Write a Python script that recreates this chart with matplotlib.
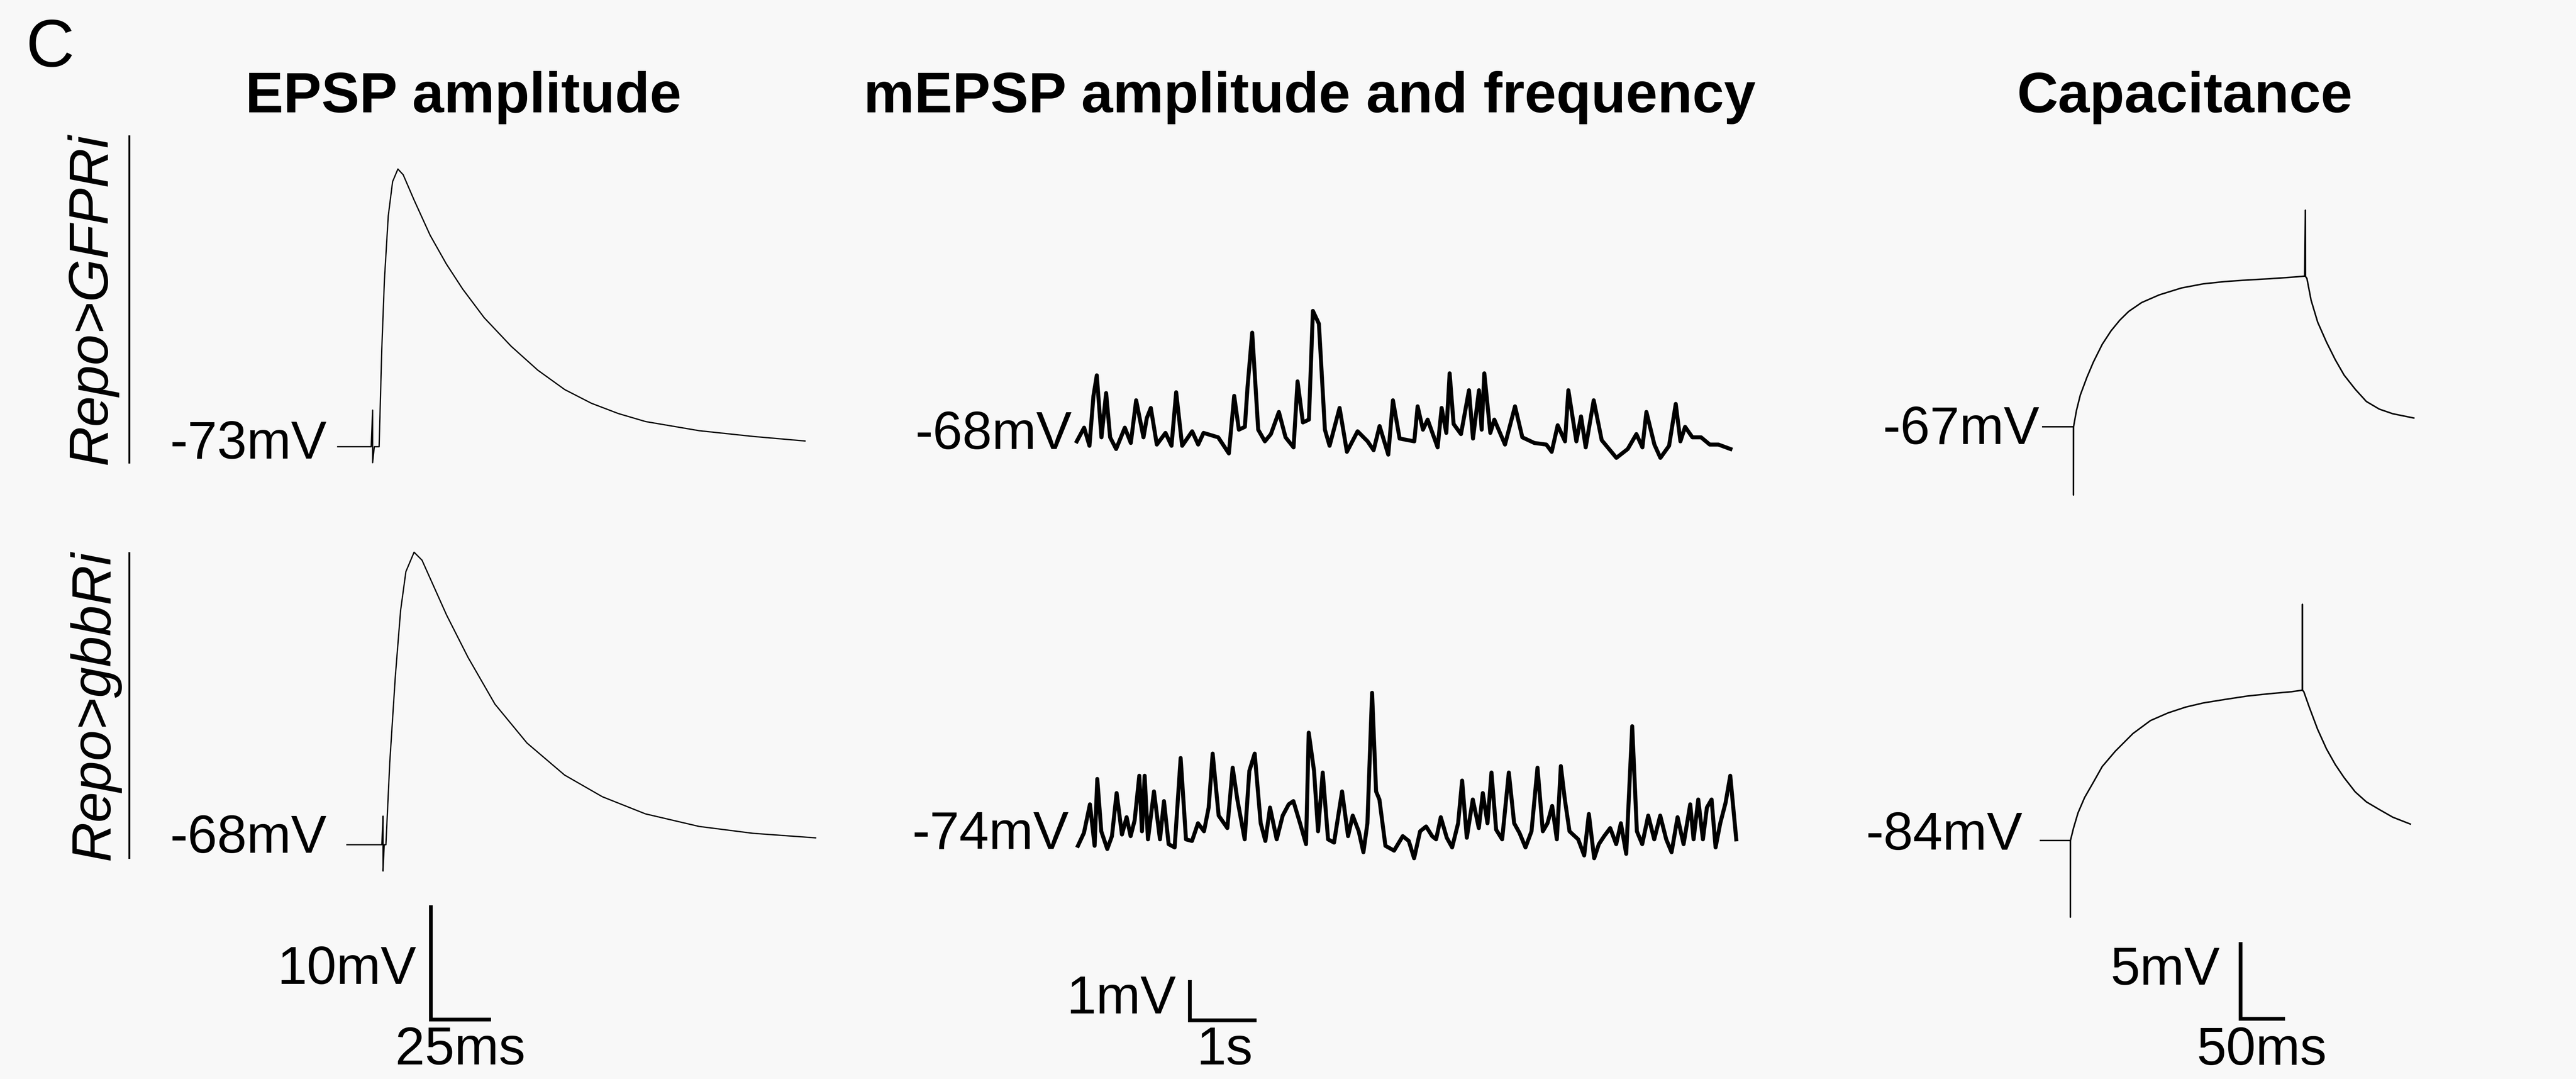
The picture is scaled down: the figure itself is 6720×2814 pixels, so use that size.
import matplotlib
matplotlib.use("Agg")
import matplotlib.pyplot as plt
from matplotlib.lines import Line2D

# ---------------- data ----------------
titles = ["EPSP amplitude", "mEPSP amplitude and frequency", "Capacitance"]
genotypes = ["Repo>GFPRi", "Repo>gbbRi"]

# resting potentials (mV) : [top row, bottom row] for each column
rest_epsp = [-73, -68]
rest_mepsp = [-68, -74]
rest_cap = [-67, -84]

# EPSP traces: (time ms, deflection from rest mV)
epsp_gfp = [(0, 0), (13.9, 0), (14.5, 3.2), (14.5, -1.4), (15.2, 0), (17.2, 0), (18.3, 8.5),
            (19.4, 14.6), (21.0, 20.2), (22.8, 23.2), (25.0, 24.3), (27.2, 23.8), (31.7, 21.6),
            (38.4, 18.5), (45.1, 16.0), (51.9, 13.8), (60.8, 11.3), (72.0, 8.8), (83.1, 6.7),
            (94.3, 5.0), (105.4, 3.8), (116.6, 2.9), (127.9, 2.2), (150.2, 1.4), (172.5, 0.9),
            (194.1, 0.5)]
epsp_gbb = [(0, 0), (14.5, 0), (15.0, 2.5), (15.0, -2.3), (15.5, 0), (16.2, 0), (17.8, 7.2),
            (20.1, 14.7), (22.3, 20.5), (24.5, 23.9), (27.9, 25.6), (31.2, 24.9), (34.6, 23.3),
            (41.4, 20.1), (50.3, 16.4), (61.5, 12.3), (74.8, 8.9), (90.4, 6.1), (106.1, 4.2),
            (124.0, 2.7), (146.3, 1.6), (168.6, 1.0), (194.7, 0.6)]

# mEPSP traces: (time s, deflection mV)
mepsp_gfp = [(0.00, -0.01), (0.11, 0.33), (0.19, -0.12), (0.25, 1.12), (0.30, 1.63), (0.37, 0.09),
             (0.44, 1.19), (0.50, 0.09), (0.59, -0.20), (0.72, 0.33), (0.81, -0.05), (0.89, 1.01),
             (1.00, 0.09), (1.05, 0.57), (1.11, 0.82), (1.20, -0.09), (1.33, 0.20), (1.42, -0.12),
             (1.49, 1.21), (1.58, -0.12), (1.73, 0.24), (1.82, -0.09), (1.90, 0.20), (2.12, 0.09),
             (2.28, -0.31), (2.36, 1.12), (2.43, 0.28), (2.52, 0.35), (2.56, 1.34), (2.63, 2.69),
             (2.72, 0.28), (2.82, -0.01), (2.91, 0.17), (3.03, 0.72), (3.13, 0.09), (3.25, -0.16),
             (3.31, 1.48), (3.39, 0.46), (3.48, 0.53), (3.54, 3.23), (3.63, 2.91), (3.72, 0.28),
             (3.79, -0.12), (3.94, 0.82), (4.05, -0.27), (4.21, 0.24), (4.36, -0.01), (4.45, -0.23),
             (4.54, 0.37), (4.67, -0.34), (4.74, 1.01), (4.84, 0.06), (5.06, -0.01), (5.11, 0.86),
             (5.19, 0.28), (5.26, 0.53), (5.41, -0.16), (5.47, 0.82), (5.54, 0.20), (5.59, 1.68),
             (5.65, 0.42), (5.76, 0.17), (5.88, 1.26), (5.94, 0.06), (6.03, 1.26), (6.07, 0.28),
             (6.11, 1.68), (6.20, 0.20), (6.26, 0.53), (6.42, -0.09), (6.57, 0.86), (6.68, 0.09),
             (6.86, -0.05), (7.04, -0.09), (7.12, -0.27), (7.21, 0.39), (7.32, -0.01), (7.37, 1.26),
             (7.49, -0.01), (7.56, 0.61), (7.63, -0.16), (7.75, 1.01), (7.87, 0.02), (8.09, -0.42),
             (8.26, -0.20), (8.39, 0.17), (8.48, -0.16), (8.54, 0.72), (8.66, -0.09), (8.75, -0.42),
             (8.88, -0.12), (8.98, 0.92), (9.05, -0.01), (9.12, 0.35), (9.23, 0.09), (9.36, 0.09),
             (9.49, -0.09), (9.62, -0.09), (9.80, -0.20)]
mepsp_gbb = [(0.00, -0.16), (0.09, 0.16), (0.18, 0.87), (0.25, -0.16), (0.29, 1.50), (0.35, 0.20),
             (0.44, -0.24), (0.51, 0.08), (0.58, 1.15), (0.66, 0.12), (0.73, 0.55), (0.79, 0.08),
             (0.85, 0.47), (0.92, 1.58), (0.96, 0.20), (1.00, 1.58), (1.05, 0.00), (1.14, 1.19),
             (1.23, 0.00), (1.29, 0.95), (1.36, -0.12), (1.45, -0.20), (1.54, 2.02), (1.62, 0.00),
             (1.71, -0.04), (1.80, 0.40), (1.89, 0.20), (1.96, 0.79), (2.02, 2.13), (2.11, 0.59),
             (2.24, 0.28), (2.32, 1.78), (2.39, 0.99), (2.50, 0.00), (2.57, 1.70), (2.65, 2.13),
             (2.74, 0.40), (2.81, -0.04), (2.88, 0.79), (2.98, 0.00), (3.07, 0.59), (3.16, 0.87),
             (3.23, 0.95), (3.33, 0.40), (3.42, -0.12), (3.46, 2.65), (3.54, 1.70), (3.60, 0.20),
             (3.67, 1.66), (3.75, 0.00), (3.84, -0.08), (3.96, 1.19), (4.05, 0.08), (4.12, 0.59),
             (4.21, 0.20), (4.28, -0.32), (4.34, 0.40), (4.41, 3.64), (4.47, 1.19), (4.52, 0.99),
             (4.61, -0.16), (4.74, -0.28), (4.87, 0.08), (4.96, -0.04), (5.04, -0.47), (5.13, 0.20),
             (5.22, 0.32), (5.31, 0.08), (5.37, 0.00), (5.44, 0.55), (5.53, 0.04), (5.61, -0.20),
             (5.70, 0.40), (5.76, 1.46), (5.83, 0.04), (5.92, 0.99), (6.01, 0.28), (6.07, 1.15),
             (6.14, 0.40), (6.20, 1.66), (6.27, 0.24), (6.36, 0.00), (6.46, 1.66), (6.54, 0.40),
             (6.62, 0.16), (6.71, -0.20), (6.80, 0.20), (6.89, 1.78), (6.97, 0.20), (7.04, 0.40),
             (7.11, 0.83), (7.18, 0.00), (7.24, 1.82), (7.30, 0.99), (7.37, 0.20), (7.50, 0.00),
             (7.59, -0.40), (7.66, 0.63), (7.74, -0.47), (7.81, -0.12), (7.89, 0.08), (7.98, 0.28),
             (8.07, -0.12), (8.14, 0.40), (8.22, -0.36), (8.31, 2.81), (8.38, 0.20), (8.46, -0.12),
             (8.55, 0.59), (8.64, 0.00), (8.73, 0.59), (8.82, 0.00), (8.90, -0.32), (8.99, 0.55),
             (9.08, -0.12), (9.18, 0.87), (9.23, 0.00), (9.30, 0.99), (9.37, 0.00), (9.43, 0.79),
             (9.50, 0.99), (9.56, -0.20), (9.63, 0.40), (9.71, 0.91), (9.78, 1.58), (9.87, 0.00)]

# Capacitance traces: (time ms, deflection mV)
cap_gfp = [(0, 0), (34.5, 0), (34.5, -4.45), (34.6, 0), (37.9, 1.07), (42.2, 2.07), (49.6, 3.22),
           (56.9, 4.22), (66.8, 5.37), (76.7, 6.25), (86.6, 6.95), (96.6, 7.52), (111.2, 8.10),
           (131.0, 8.60), (156.0, 9.05), (180.6, 9.32), (205.2, 9.47), (230.2, 9.57), (254.7, 9.65),
           (279.7, 9.75), (294.4, 9.82), (295.3, 14.12), (295.4, 9.80), (297.0, 9.67), (301.7, 8.25),
           (309.1, 6.82), (319.0, 5.52), (328.9, 4.37), (338.8, 3.37), (351.3, 2.45), (363.8, 1.65),
           (378.4, 1.15), (393.5, 0.85), (417.2, 0.57)]
cap_gbb = [(0, 0), (33.6, 0), (33.6, -5.0), (33.7, 0), (37.1, 0.80), (42.2, 1.80), (49.6, 2.80),
           (59.5, 3.80), (69.4, 4.82), (84.1, 5.82), (103.9, 6.97), (123.7, 7.82), (143.5, 8.32),
           (163.4, 8.70), (183.2, 8.97), (207.8, 9.20), (232.8, 9.42), (257.3, 9.57), (282.3, 9.70),
           (294.4, 9.80), (294.5, 15.4), (294.6, 9.80), (296.1, 9.70), (302.2, 8.70), (311.6, 7.25),
           (321.6, 5.97), (331.5, 4.95), (341.4, 4.10), (353.9, 3.17), (366.4, 2.52), (381.0, 2.02),
           (396.1, 1.52), (415.9, 1.07)]

# scale bars: (vertical size, vertical label, horizontal size, horizontal label)
scalebars = [(10, "10mV", 25, "25ms"), (1, "1mV", 1, "1s"), (5, "5mV", 50, "50ms")]

# ---------------- layout (pixels in a 6721 x 2814 canvas) ----------------
W, H = 6721, 2814
BG = "#f8f8f8"
FONT = "Liberation Sans"

fig = plt.figure(figsize=(W / 100, H / 100), dpi=100, facecolor=BG)


def fx(x):
    return x / W


def fy(y):
    return 1 - y / H


def overlay(x0, y0, sx, sy):
    """Axes covering the canvas; data origin at pixel (x0, y0); sx, sy px per unit."""
    ax = fig.add_axes([0, 0, 1, 1])
    ax.set_xlim(-x0 / sx, (W - x0) / sx)
    ax.set_ylim(-(H - y0) / sy, y0 / sy)
    ax.axis("off")
    return ax


columns = [
    dict(traces=[epsp_gfp, epsp_gbb], rest=rest_epsp, origins=[(881, 1165), (905, 2203)],
         sx=6.28, sy=29.8, labels=[(853, 1160), (853, 2188)], lw=2.4,
         bar_corner=(1124, 2659), vlab=(1086, 2530), hlab=(1201, 2740)),
    dict(traces=[mepsp_gfp, mepsp_gbb], rest=rest_mepsp, origins=[(2809, 1150), (2812, 2189)],
         sx=174.0, sy=105.0, labels=[(2797, 1135), (2789, 2177)], lw=7.5,
         bar_corner=(3104, 2661), vlab=(3068, 2607), hlab=(3195, 2740)),
    dict(traces=[cap_gfp, cap_gbb], rest=rest_cap, origins=[(5329, 1113), (5323, 2192)],
         sx=2.32, sy=40.0, labels=[(5321, 1122), (5277, 2180)], lw=2.8,
         bar_corner=(5845, 2657), vlab=(5791, 2532), hlab=(5900, 2741)),
]
title_pos = [(1209, 255), (3416, 255), (5700, 255)]

LABEL_SIZE = 100
for ci, col in enumerate(columns):
    fig.text(fx(title_pos[ci][0]), fy(title_pos[ci][1]), titles[ci], ha="center", va="center",
             fontsize=107, fontweight="bold", family=FONT, color="black")
    for ri in range(2):
        ox, oy = col["origins"][ri]
        ax = overlay(ox, oy, col["sx"], col["sy"])
        t = [p[0] for p in col["traces"][ri]]
        v = [p[1] for p in col["traces"][ri]]
        ax.plot(t, v, color="black", lw=col["lw"], solid_joinstyle="round")
        lx, ly = col["labels"][ri]
        fig.text(fx(lx), fy(ly), f"{col['rest'][ri]}mV", ha="right", va="center",
                 fontsize=LABEL_SIZE, family=FONT, color="black")
    # scale bar in the bottom trace's data units
    vsize, vtxt, hsize, htxt = scalebars[ci]
    ox, oy = col["origins"][1]
    axb = overlay(ox, oy, col["sx"], col["sy"])
    cx = (col["bar_corner"][0] - ox) / col["sx"]
    cy = (oy - col["bar_corner"][1]) / col["sy"]
    axb.plot([cx, cx, cx + hsize], [cy + vsize, cy, cy], color="black", lw=7,
             solid_joinstyle="miter", solid_capstyle="butt")
    fig.text(fx(col["vlab"][0]), fy(col["vlab"][1]), vtxt, ha="right", va="center",
             fontsize=LABEL_SIZE, family=FONT)
    fig.text(fx(col["hlab"][0]), fy(col["hlab"][1]), htxt, ha="center", va="center",
             fontsize=LABEL_SIZE, family=FONT)

# panel letter
fig.text(fx(130), fy(128), "C", ha="center", va="center", fontsize=126, family=FONT)

# genotype labels with separators
geno_pos = [(240, 780), (247, 1840)]
sep_lines = [(337, 355, 1206), (337, 1442, 2237)]
for gi, g in enumerate(genotypes):
    fig.text(fx(geno_pos[gi][0]), fy(geno_pos[gi][1]), g, rotation=90, ha="center", va="center",
             fontsize=104, style="italic", family=FONT)
    x, y1, y2 = sep_lines[gi]
    fig.add_artist(Line2D([fx(x), fx(x)], [fy(y1), fy(y2)], color="black", lw=3.5,
                          transform=fig.transFigure))

fig.savefig("out.png", dpi=100, facecolor=BG)
